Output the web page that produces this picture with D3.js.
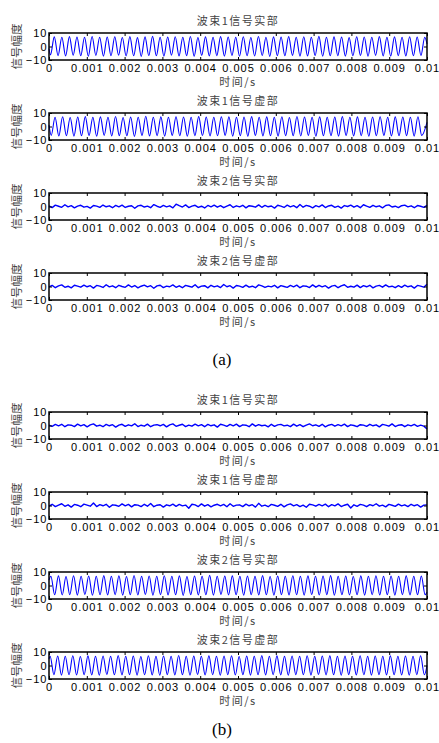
<!DOCTYPE html>
<html>
<head>
<meta charset="utf-8">
<script src="https://cdn.jsdelivr.net/npm/d3@7"></script>
<style>
  body { margin: 0; background: #fff; }
  svg { display: block; }
</style>
</head>
<body>
<script>
// ---- data ----
const panelTitles = ["波束1信号实部", "波束1信号虚部", "波束2信号实部", "波束2信号虚部",
                     "波束1信号实部", "波束1信号虚部", "波束2信号实部", "波束2信号虚部"];
const xTicks = [0, 0.001, 0.002, 0.003, 0.004, 0.005, 0.006, 0.007, 0.008, 0.009, 0.01];
const yTicks = [-10, 0, 10];
const halfPeriod = 0.0001;   // 5 kHz tone, one extremum every 0.1 ms

// tone series: value at t=0, first extremum time, extrema, value at t=0.01
const aBeam1RealEdge = [-1.5, 2.0];
const aBeam1RealT0 = 0.00004;
const aBeam1Real = [
  -6.2, 7.1, -6.8, 6.9, -7.0, 7.3, -6.5, 7.0, -6.9, 6.8,
  -7.2, 7.4, -6.6, 6.9, -7.1, 7.0, -6.8, 7.2, -6.4, 6.7,
  -7.0, 7.3, -6.9, 6.6, -7.3, 7.1, -6.7, 7.5, -6.9, 6.8,
  -7.1, 7.0, -6.5, 7.2, -7.0, 6.9, -6.8, 7.4, -7.2, 6.7,
  -6.6, 7.1, -7.0, 6.9, -6.8, 7.3, -7.1, 7.0, -6.6, 6.8,
  -7.2, 7.2, -6.9, 6.7, -7.0, 7.4, -6.7, 6.9, -7.3, 7.1,
  -6.8, 7.0, -6.9, 7.3, -6.6, 6.8, -7.1, 7.2, -7.0, 6.9,
  -6.7, 7.5, -7.2, 6.8, -6.9, 7.1, -6.8, 7.0, -7.1, 6.6,
  -6.9, 7.2, -6.7, 7.0, -7.2, 6.9, -6.6, 7.3, -7.0, 6.8,
  -7.1, 7.1, -6.8, 6.9, -7.0, 7.2, -6.9, 7.0, -6.7, 6.8
];
const aBeam1ImagEdge = [1.0, 3.0];
const aBeam1ImagT0 = 0.00006;
const aBeam1Imag = [
  -6.6, 6.9, -7.0, 7.2, -6.8, 6.7, -7.1, 7.0, -6.9, 7.3,
  -6.7, 6.8, -7.2, 7.1, -6.6, 6.9, -7.0, 7.4, -6.8, 6.7,
  -6.9, 7.0, -7.3, 6.8, -6.7, 7.6, -7.0, 6.9, -6.8, 7.1,
  -7.1, 6.8, -6.6, 7.2, -6.9, 7.0, -7.2, 6.9, -6.8, 7.3,
  -6.7, 7.0, -7.0, 6.8, -6.9, 7.2, -6.6, 7.1, -7.1, 6.9,
  -6.8, 7.0, -7.2, 7.3, -6.7, 6.8, -7.0, 7.1, -6.9, 6.9,
  -7.1, 7.2, -6.8, 6.7, -6.9, 7.4, -7.0, 7.0, -6.6, 6.8,
  -7.2, 7.1, -6.9, 6.9, -6.8, 7.0, -7.1, 7.3, -6.7, 6.8,
  -7.0, 7.1, -6.8, 6.9, -7.2, 7.0, -6.9, 7.2, -6.6, 6.8,
  -7.0, 7.1, -6.9, 7.0, -6.8, 6.9, -7.1, 7.2, -6.7
];
const bBeam2RealEdge = [4.0, -5.0];
const bBeam2RealT0 = 0.00005;
const bBeam2Real = [
  6.8, -6.9, 7.1, -7.0, 6.7, -6.8, 7.2, -7.1, 6.9, -6.7,
  7.0, -7.2, 6.8, -6.9, 7.3, -7.0, 6.9, -6.8, 7.1, -7.1,
  6.7, -6.9, 7.4, -7.0, 6.8, -6.7, 7.0, -7.2, 6.9, -6.8,
  7.2, -7.0, 6.8, -6.9, 7.1, -7.3, 6.7, -6.8, 7.0, -7.0,
  6.9, -6.9, 7.5, -7.1, 6.8, -6.7, 7.0, -7.0, 7.1, -6.9,
  6.8, -7.2, 7.0, -6.8, 6.9, -7.0, 7.3, -6.9, 6.7, -7.1,
  7.0, -6.8, 6.9, -7.0, 7.2, -6.9, 6.8, -7.1, 7.1, -6.7,
  6.9, -7.0, 7.0, -6.8, 7.3, -7.2, 6.8, -6.9, 7.0, -7.0,
  6.7, -6.9, 7.1, -7.1, 6.9, -6.8, 7.2, -7.0, 6.8, -6.9,
  7.0, -7.1, 6.9, -6.8, 7.1, -7.0, 6.8, -6.9, 7.0, -6.8
];
const bBeam2ImagEdge = [5.0, 0.0];
const bBeam2ImagT0 = 0.00003;
const bBeam2Imag = [
  6.9, -6.8, 7.0, -7.1, 6.8, -6.9, 7.2, -7.0, 6.7, -6.8,
  7.1, -7.0, 6.9, -7.2, 7.0, -6.7, 6.8, -6.9, 7.3, -7.0,
  6.9, -6.8, 7.0, -7.1, 6.7, -6.9, 7.2, -7.0, 6.8, -7.2,
  7.0, -6.8, 6.9, -7.0, 7.4, -6.9, 6.8, -7.1, 7.0, -6.7,
  6.9, -7.0, 7.1, -6.8, 6.8, -7.2, 7.0, -6.9, 7.2, -7.0,
  6.7, -6.8, 7.0, -7.1, 6.9, -6.9, 7.3, -7.0, 6.8, -6.8,
  7.1, -7.0, 6.9, -7.2, 7.0, -6.8, 6.8, -6.9, 7.2, -7.1,
  6.9, -6.7, 7.0, -7.0, 7.1, -6.9, 6.8, -7.2, 7.0, -6.8,
  6.9, -7.0, 7.2, -6.9, 6.8, -7.1, 7.0, -6.8, 6.9, -7.0,
  7.1, -6.9, 6.8, -7.0, 7.0, -7.1, 6.9, -6.8, 7.2, -6.9
];

// noise-only series, 120 evenly spaced samples over 0..0.01 s
const aBeam2Real = [
  0.5, -0.8, 1.0, 0.2, -0.6, 1.3, -0.3, 0.6, -1.0, 0.3,
  0.9, -0.5, 0.1, -1.2, 0.7, 0.3, -0.6, 1.1, -0.2, 0.5,
  -0.9, 0.8, -0.3, 1.0, -0.7, 0.2, 0.6, -1.3, 0.5, 0.9,
  -0.4, 0.3, -0.9, 1.4, 0.2, -0.6, 0.8, -0.3, 0.5, -1.0,
  1.7, 0.6, -0.4, 1.2, -0.8, 0.3, 0.9, -0.6, 0.2, -1.1,
  0.8, -0.2, 1.0, -0.5, 0.6, -0.9, 0.3, 1.3, -0.7, 0.5,
  -0.3, 0.9, -1.0, 0.6, 0.2, -0.5, 1.2, -0.6, 0.8, -0.2,
  0.4, -1.2, 0.9, 0.3, -0.7, 1.0, -0.3, 0.6, -0.9, 1.5,
  -0.5, 0.8, 0.2, -1.0, 0.6, -0.3, 1.2, -0.8, 0.4, 0.9,
  -0.6, 0.3, -1.2, 0.7, 0.0, 1.0, -0.5, 0.6, -0.9, 1.3,
  0.3, -0.6, 0.9, -0.2, 0.5, -1.0, 0.7, 1.2, -0.4, 0.2,
  -0.8, 0.6, 1.0, -0.3, 0.5, -0.9, 0.7, 0.2, -0.6, 0.9
];
const aBeam2Imag = [
  -0.3, 0.8, -0.9, 0.4, 1.2, -0.6, 0.2, -1.0, 0.9, 0.3,
  -0.5, 1.0, -0.2, 0.6, -1.2, 0.8, 0.3, -0.7, 1.3, -0.3,
  0.5, -0.9, 0.9, 0.0, -0.6, 1.2, -0.4, 0.7, -1.0, 0.2,
  1.0, -0.3, 0.6, -1.3, 0.5, 0.9, -0.8, 0.3, -0.2, 1.2,
  -0.6, 0.5, -0.9, 0.8, 0.2, -0.5, 1.3, -0.9, 0.3, 0.6,
  -1.0, 0.9, -0.3, 0.5, -0.8, 1.5, -0.2, 0.6, -1.2, 0.7,
  0.3, -0.6, 1.0, -0.5, 0.2, -0.9, 1.2, 0.4, -0.7, 0.3,
  -0.3, 0.9, -1.0, 0.6, 0.0, -0.6, 0.8, -0.2, 1.0, -0.9,
  0.5, 0.2, -0.8, 1.2, -0.5, 0.9, -0.3, 0.6, -1.2, 0.3,
  0.8, -0.9, 0.5, 1.3, -0.6, 0.2, -0.5, 1.0, -0.8, 0.6,
  -0.2, 0.9, -1.0, 0.3, 0.8, -0.5, 1.2, -0.3, 0.2, -0.9,
  0.6, -0.6, 1.0, -0.2, 0.5, -1.2, 0.8, 0.3, -0.5, 1.6
];
const bBeam1Real = [
  0.3, -0.6, 0.8, -0.2, 0.9, -0.9, 0.5, 0.2, -0.8, 1.0,
  -0.3, 0.6, -1.0, 0.5, 1.2, -0.5, 0.2, -0.9, 0.8, -0.2,
  0.6, -1.2, 0.3, 0.9, -0.6, 0.5, -0.3, 1.3, -0.8, 0.2,
  -0.5, 1.0, -0.9, 0.3, 0.6, -0.2, 0.8, -1.0, 0.5, 1.2,
  -0.6, 0.2, 0.9, -0.8, 0.3, -0.5, 1.0, -0.3, 0.6, -0.9,
  0.8, -0.2, 0.5, -1.2, 0.9, 0.3, -0.6, 0.8, -0.3, 1.0,
  -0.8, 0.5, 0.2, -0.9, 1.2, -0.5, 0.6, -0.2, 0.3, -1.0,
  0.9, -0.6, 0.5, 0.8, -0.3, 0.2, -0.8, 1.0, -0.5, 0.6,
  -0.9, 0.3, 1.2, -0.2, 0.5, -0.6, 0.9, -1.0, 0.2, 0.8,
  -0.5, 0.6, -0.3, 1.0, -0.8, 0.5, 0.0, -0.9, 0.6, 0.3,
  -0.6, 0.9, -0.2, 0.5, -1.0, 0.8, 0.3, -0.5, 1.2, -0.8,
  0.2, 0.6, -0.9, 0.5, -0.3, 0.8, -0.6, 0.3, -0.5, -2.5
];
const bBeam1Imag = [
  -0.5, 0.9, -0.8, 0.3, 1.3, -0.6, 0.5, -1.2, 0.8, 0.2,
  -0.9, 1.0, 0.3, -0.5, 1.8, -0.8, 0.6, -0.2, 0.9, -1.3,
  0.5, 0.2, -0.6, 1.2, -0.3, 0.8, -1.0, 0.6, 0.3, -0.8,
  0.9, -0.5, 1.5, -0.9, 0.2, 0.6, -1.2, 0.5, -0.2, 1.0,
  -0.6, 0.8, -0.3, 0.3, -2.0, 0.9, 0.5, -0.8, 1.2, -0.5,
  0.6, -1.0, 0.2, 0.9, -0.3, 0.8, -0.9, 1.3, -0.6, 0.3,
  0.5, -0.8, 1.0, -0.2, 0.6, -1.2, 1.6, -0.5, 0.3, -0.9,
  0.8, 0.2, -0.6, 0.9, -1.0, 0.5, 1.2, -0.3, 0.6, -0.8,
  0.3, -1.3, 0.9, 0.5, -0.5, 0.8, -0.2, 1.0, -0.9, 0.6,
  -0.3, 1.2, -0.8, 0.2, 0.9, -1.8, 0.5, -0.6, 0.8, 0.3,
  -0.9, 0.6, -0.2, 1.3, -0.5, 0.3, -1.0, 0.8, 0.2, -0.6,
  1.0, -0.3, 0.5, -0.8, 0.9, -0.2, 0.6, -1.2, 0.3, 0.5
];

// ---- turn the arrays into (t, v) points ----
function toneSeries(edge, t0, ext) {
  const pts = [{ t: 0, v: edge[0] }];
  ext.forEach((v, k) => pts.push({ t: t0 + k * halfPeriod, v: v }));
  pts.push({ t: 0.01, v: edge[1] });
  return pts;
}
function noiseSeries(vals) {
  const step = 0.01 / (vals.length - 1);
  return vals.map((v, i) => ({ t: i * step, v: v }));
}

const panels = [
  { data: toneSeries(aBeam1RealEdge, aBeam1RealT0, aBeam1Real), smooth: true },
  { data: toneSeries(aBeam1ImagEdge, aBeam1ImagT0, aBeam1Imag), smooth: true },
  { data: noiseSeries(aBeam2Real), smooth: false },
  { data: noiseSeries(aBeam2Imag), smooth: false },
  { data: noiseSeries(bBeam1Real), smooth: false },
  { data: noiseSeries(bBeam1Imag), smooth: false },
  { data: toneSeries(bBeam2RealEdge, bBeam2RealT0, bBeam2Real), smooth: true },
  { data: toneSeries(bBeam2ImagEdge, bBeam2ImagT0, bBeam2Imag), smooth: true }
];

// ---- layout ----
const W = 439, H = 743;
const plotLeft = 49, plotRight = 427, plotH = 27;
const panelTops = [33, 113, 193, 273, 412, 492, 572, 652];
const cx = (plotLeft + plotRight) / 2;
const cjk = "'Noto Sans CJK SC', sans-serif";
const latin = "'Liberation Sans', Arial, sans-serif";
const ink = "#444";

const svg = d3.select("body").append("svg")
    .attr("width", W)
    .attr("height", H);

const x = d3.scaleLinear().domain([0, 0.01]).range([0, plotRight - plotLeft]);
const y = d3.scaleLinear().domain([-10, 10]).range([plotH, 0]);

panels.forEach(function(p, i) {
  const g = svg.append("g")
      .attr("transform", "translate(" + plotLeft + "," + panelTops[i] + ")");

  // signal
  const line = d3.line()
      .x(d => x(d.t))
      .y(d => y(d.v))
      .curve(p.smooth ? d3.curveMonotoneX : d3.curveLinear);
  g.append("path")
      .datum(p.data)
      .attr("fill", "none")
      .attr("stroke", "#0000ff")
      .attr("stroke-width", p.smooth ? 1.1 : 1.4)
      .attr("stroke-linejoin", "round")
      .attr("d", line);

  // axes with inward ticks on all four sides
  const bottom = g.append("g")
      .attr("transform", "translate(0," + plotH + ")")
      .call(d3.axisBottom(x).tickValues(xTicks).tickSize(-3).tickPadding(4)
        .tickFormat(d => d === 0 ? "0" : String(+d.toFixed(3))));
  g.append("g")
      .call(d3.axisTop(x).tickValues(xTicks).tickSize(-3).tickFormat(""));
  const left = g.append("g")
      .call(d3.axisLeft(y).tickValues(yTicks).tickSize(-3).tickPadding(1.5));
  g.append("g")
      .attr("transform", "translate(" + x.range()[1] + ",0)")
      .call(d3.axisRight(y).tickValues(yTicks).tickSize(-3).tickFormat(""));

  g.selectAll(".domain").remove();
  g.selectAll(".tick line").attr("stroke", "#000").attr("stroke-width", 1);
  [bottom, left].forEach(a => a.selectAll("text")
      .attr("fill", "#000")
      .style("font-family", latin)
      .style("font-size", "11px")
      .style("letter-spacing", "1px"));

  // frame
  g.append("rect")
      .attr("width", x.range()[1])
      .attr("height", plotH)
      .attr("fill", "none")
      .attr("stroke", "#000")
      .attr("stroke-width", 1.5);

  // title
  svg.append("text")
      .attr("x", cx)
      .attr("y", panelTops[i] - 8)
      .attr("text-anchor", "middle")
      .attr("fill", ink)
      .style("font-family", cjk)
      .style("font-size", "11px")
      .style("letter-spacing", "1.5px")
      .text(panelTitles[i]);

  // x label
  svg.append("text")
      .attr("x", cx)
      .attr("y", panelTops[i] + plotH + 26)
      .attr("text-anchor", "middle")
      .attr("fill", ink)
      .style("font-family", cjk)
      .style("font-size", "11px")
      .style("letter-spacing", "1.5px")
      .text("时间/s");

  // y label
  svg.append("text")
      .attr("transform", "translate(20.5," + (panelTops[i] + plotH / 2) + ") rotate(-90)")
      .attr("text-anchor", "middle")
      .attr("fill", ink)
      .style("font-family", cjk)
      .style("font-size", "11.5px")
      .text("信号幅度");
});

// sub-figure captions
[["(a)", 365], ["(b)", 735]].forEach(function(c) {
  svg.append("text")
      .attr("x", 222)
      .attr("y", c[1])
      .attr("text-anchor", "middle")
      .attr("fill", "#000")
      .style("font-family", "'Liberation Serif', 'Times New Roman', serif")
      .style("font-size", "17px")
      .text(c[0]);
});
</script>
</body>
</html>
